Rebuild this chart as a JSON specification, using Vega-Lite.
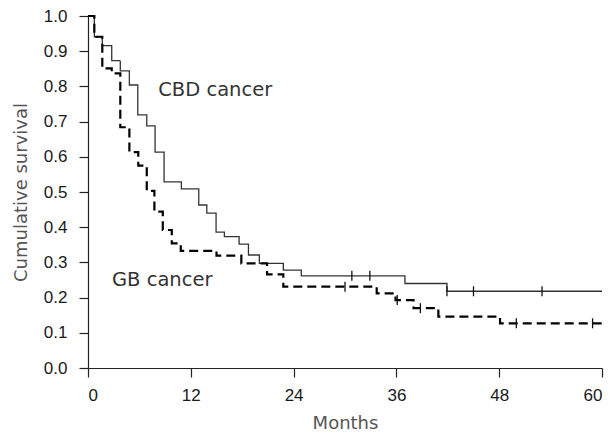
{
  "$schema": "https://vega.github.io/schema/vega-lite/v6.json",
  "width": 514,
  "height": 352,
  "autosize": {"type": "none"},
  "padding": {"left": 88, "top": 16, "right": 14, "bottom": 69},
  "background": "white",
  "config": {
    "view": {"stroke": null},
    "font": "DejaVu Sans",
    "axis": {
      "grid": false,
      "domainColor": "#222",
      "tickColor": "#222",
      "labelColor": "#1a1a1a",
      "titleColor": "#555",
      "labelFont": "Liberation Sans",
      "titleFont": "DejaVu Sans",
      "labelFontSize": 17,
      "titleFontSize": 18,
      "titleFontWeight": "normal",
      "tickSize": 9,
      "domainWidth": 1.2,
      "tickWidth": 1.2
    }
  },
  "datasets": {
    "curves": [
      {"group": "CBD cancer", "month": 0, "surv": 1.0},
      {"group": "CBD cancer", "month": 0.74, "surv": 0.941},
      {"group": "CBD cancer", "month": 1.67, "surv": 0.916},
      {"group": "CBD cancer", "month": 2.77, "surv": 0.873},
      {"group": "CBD cancer", "month": 3.77, "surv": 0.844},
      {"group": "CBD cancer", "month": 4.83, "surv": 0.804},
      {"group": "CBD cancer", "month": 5.81, "surv": 0.719},
      {"group": "CBD cancer", "month": 6.86, "surv": 0.688},
      {"group": "CBD cancer", "month": 7.83, "surv": 0.613},
      {"group": "CBD cancer", "month": 8.88, "surv": 0.529},
      {"group": "CBD cancer", "month": 10.9, "surv": 0.509},
      {"group": "CBD cancer", "month": 12.93, "surv": 0.463},
      {"group": "CBD cancer", "month": 13.87, "surv": 0.44},
      {"group": "CBD cancer", "month": 14.95, "surv": 0.386},
      {"group": "CBD cancer", "month": 15.92, "surv": 0.373},
      {"group": "CBD cancer", "month": 17.64, "surv": 0.352},
      {"group": "CBD cancer", "month": 18.73, "surv": 0.321},
      {"group": "CBD cancer", "month": 20.0, "surv": 0.297},
      {"group": "CBD cancer", "month": 22.8, "surv": 0.278},
      {"group": "CBD cancer", "month": 24.9, "surv": 0.262},
      {"group": "CBD cancer", "month": 37.0, "surv": 0.24},
      {"group": "CBD cancer", "month": 41.9, "surv": 0.218},
      {"group": "CBD cancer", "month": 60, "surv": 0.218},
      {"group": "GB cancer", "month": 0, "surv": 1.0},
      {"group": "GB cancer", "month": 0.74, "surv": 0.941},
      {"group": "GB cancer", "month": 1.67, "surv": 0.851},
      {"group": "GB cancer", "month": 2.77, "surv": 0.837},
      {"group": "GB cancer", "month": 3.77, "surv": 0.684},
      {"group": "GB cancer", "month": 4.83, "surv": 0.613},
      {"group": "GB cancer", "month": 5.87, "surv": 0.575},
      {"group": "GB cancer", "month": 6.86, "surv": 0.503},
      {"group": "GB cancer", "month": 7.75, "surv": 0.444},
      {"group": "GB cancer", "month": 8.73, "surv": 0.392},
      {"group": "GB cancer", "month": 9.78, "surv": 0.354},
      {"group": "GB cancer", "month": 10.83, "surv": 0.333},
      {"group": "GB cancer", "month": 15.0, "surv": 0.319},
      {"group": "GB cancer", "month": 17.9, "surv": 0.297},
      {"group": "GB cancer", "month": 20.9, "surv": 0.266},
      {"group": "GB cancer", "month": 22.8, "surv": 0.231},
      {"group": "GB cancer", "month": 33.7, "surv": 0.212},
      {"group": "GB cancer", "month": 35.9, "surv": 0.193},
      {"group": "GB cancer", "month": 38.0, "surv": 0.17},
      {"group": "GB cancer", "month": 40.9, "surv": 0.146},
      {"group": "GB cancer", "month": 48.1, "surv": 0.127},
      {"group": "GB cancer", "month": 60, "surv": 0.127}
    ],
    "censored": [
      {"group": "CBD cancer", "month": 30.8, "surv": 0.262},
      {"group": "CBD cancer", "month": 32.9, "surv": 0.262},
      {"group": "CBD cancer", "month": 41.9, "surv": 0.218},
      {"group": "CBD cancer", "month": 45.0, "surv": 0.218},
      {"group": "CBD cancer", "month": 53.0, "surv": 0.218},
      {"group": "GB cancer", "month": 30.0, "surv": 0.231},
      {"group": "GB cancer", "month": 36.1, "surv": 0.193},
      {"group": "GB cancer", "month": 38.8, "surv": 0.17},
      {"group": "GB cancer", "month": 50.0, "surv": 0.127},
      {"group": "GB cancer", "month": 58.9, "surv": 0.127}
    ],
    "labels": [
      {"label": "CBD cancer", "month": 8.2, "surv": 0.79},
      {"label": "GB cancer", "month": 2.8, "surv": 0.25}
    ]
  },
  "encoding": {
    "x": {
      "field": "month", "type": "quantitative",
      "scale": {"domain": [0, 60], "nice": false},
      "axis": {"values": [0, 12, 24, 36, 48, 60], "labelOverlap": false, "title": "Months", "labelPadding": 10, "titleY": 55, "titleBaseline": "middle"}
    },
    "y": {
      "field": "surv", "type": "quantitative",
      "scale": {"domain": [0, 1], "nice": false},
      "axis": {"values": [0, 0.1, 0.2, 0.3, 0.4, 0.5, 0.6, 0.7, 0.8, 0.9, 1], "tickCount": 11, "labelOverlap": false, "labelFlush": false, "format": ".1f", "title": "Cumulative survival", "labelPadding": 12, "titleX": -67, "titleY": 176, "titleAngle": -90, "titleAlign": "center", "titleBaseline": "middle"}
    }
  },
  "layer": [
    {
      "data": {"name": "curves"},
      "mark": {"type": "line", "interpolate": "step-after"},
      "encoding": {
        "strokeDash": {
          "field": "group", "type": "nominal",
          "scale": {"domain": ["CBD cancer", "GB cancer"], "range": [[1, 0], [9, 5]]},
          "legend": null
        },
        "color": {
          "field": "group", "type": "nominal",
          "scale": {"domain": ["CBD cancer", "GB cancer"], "range": ["#333333", "#000000"]},
          "legend": null
        },
        "strokeWidth": {
          "field": "group", "type": "nominal",
          "scale": {"domain": ["CBD cancer", "GB cancer"], "range": [1.3, 2.2]},
          "legend": null
        }
      }
    },
    {
      "data": {"name": "censored"},
      "mark": {"type": "point", "shape": "M0,-1L0,1", "size": 100, "filled": false, "strokeWidth": 1.3, "color": "#111", "opacity": 1},
      "encoding": {}
    },
    {
      "data": {"name": "labels"},
      "mark": {"type": "text", "align": "left", "baseline": "middle", "fontSize": 19.5, "color": "#333"},
      "encoding": {
        "text": {"field": "label"}
      }
    }
  ]
}
